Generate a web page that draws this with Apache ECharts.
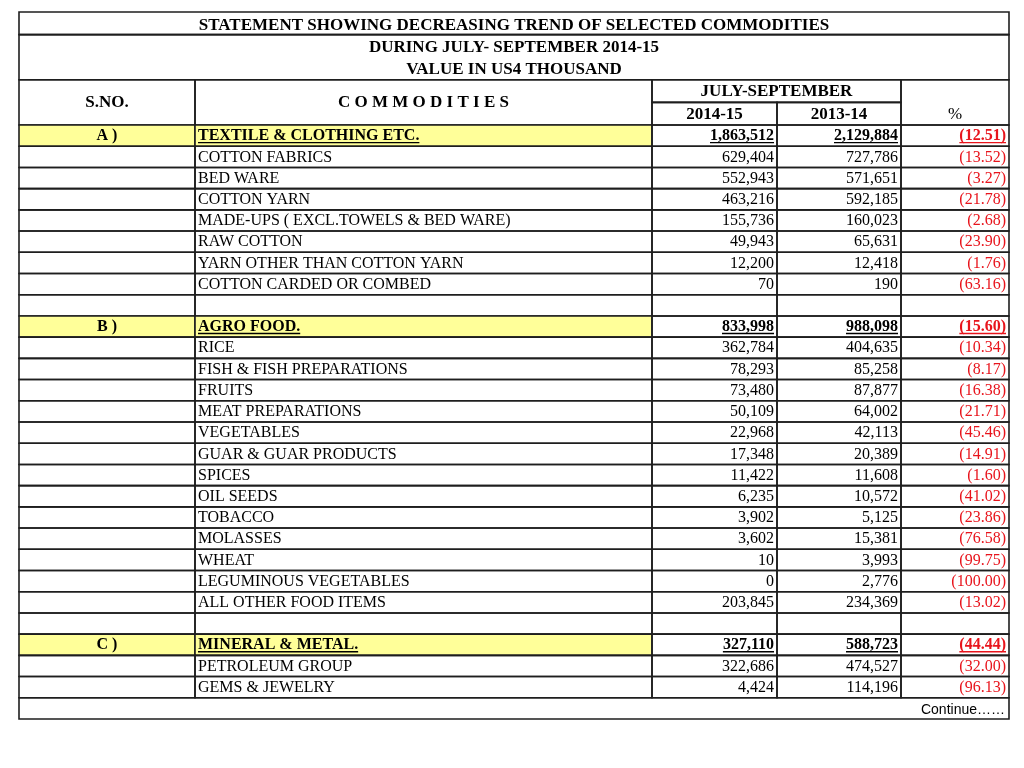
<!DOCTYPE html>
<html><head><meta charset="utf-8">
<script src="https://cdn.jsdelivr.net/npm/echarts@6/dist/echarts.min.js"></script>
<style>html,body{margin:0;padding:0;background:#fff}#c{width:1024px;height:768px}</style>
</head><body><div id="c"></div>
<script>
// ---------- DATA ----------
const titleLines = [
  'STATEMENT SHOWING DECREASING TREND OF SELECTED COMMODITIES',
  'DURING JULY- SEPTEMBER 2014-15',
  'VALUE IN US4 THOUSAND'
];
const headerSno = 'S.NO.';
const headerCommodities = 'C O M M O D I T I E S';
const headerPeriod = 'JULY-SEPTEMBER';
const headerYears = ['2014-15', '2013-14'];
const headerPct = '%';
const serialNos = ['A )','','','','','','','','', 'B )','','','','','','','','','','','','','','', 'C )','',''];
const commodities = [
  'TEXTILE & CLOTHING ETC.', 'COTTON FABRICS', 'BED WARE', 'COTTON YARN',
  'MADE-UPS ( EXCL.TOWELS & BED WARE)', 'RAW COTTON', 'YARN OTHER THAN COTTON YARN',
  'COTTON CARDED OR COMBED', '',
  'AGRO FOOD.', 'RICE', 'FISH & FISH PREPARATIONS', 'FRUITS', 'MEAT PREPARATIONS',
  'VEGETABLES', 'GUAR & GUAR PRODUCTS', 'SPICES', 'OIL SEEDS', 'TOBACCO', 'MOLASSES',
  'WHEAT', 'LEGUMINOUS VEGETABLES', 'ALL OTHER FOOD ITEMS', '',
  'MINERAL & METAL.', 'PETROLEUM GROUP', 'GEMS & JEWELRY'
];
const value2014 = [1863512, 629404, 552943, 463216, 155736, 49943, 12200, 70, null,
  833998, 362784, 78293, 73480, 50109, 22968, 17348, 11422, 6235, 3902, 3602, 10, 0, 203845, null,
  327110, 322686, 4424];
const value2013 = [2129884, 727786, 571651, 592185, 160023, 65631, 12418, 190, null,
  988098, 404635, 85258, 87877, 64002, 42113, 20389, 11608, 10572, 5125, 15381, 3993, 2776, 234369, null,
  588723, 474527, 114196];
const pctChange = [-12.51, -13.52, -3.27, -21.78, -2.68, -23.90, -1.76, -63.16, null,
  -15.60, -10.34, -8.17, -16.38, -21.71, -45.46, -14.91, -1.60, -41.02, -23.86, -76.58, -99.75, -100.00, -13.02, null,
  -44.44, -32.00, -96.13];
const footnote = 'Continue……';

// ---------- LAYOUT / STYLE ----------
const colEdges = [0, 176, 633, 758, 882, 990];
const SERIF = '"Liberation Serif", "Times New Roman", serif';
const SANS = '"Liberation Sans", Arial, sans-serif';
const BORDER = '#1e1e1e';
const YELLOW = '#ffff99';
const RED = '#e8141c';
const HEAD_SIZE = 17;

const fmtNum = v => v == null ? '' : v.toLocaleString('en-US');
const fmtPct = v => v == null ? '' : (v < 0 ? '(' + Math.abs(v).toFixed(2) + ')' : v.toFixed(2));

// header cells
const headCells = [
  {c0:0,c1:5,r0:0,r1:0,border:true,text:titleLines[0],align:'center',bold:true,size:HEAD_SIZE,dy:1.5},
  {c0:0,c1:5,r0:1,r1:2,border:true},
  {c0:0,c1:5,r0:1,r1:1,text:titleLines[1],align:'center',bold:true,size:HEAD_SIZE,dy:1},
  {c0:0,c1:5,r0:2,r1:2,text:titleLines[2],align:'center',bold:true,size:HEAD_SIZE,dy:1},
  {c0:0,c1:1,r0:3,r1:4,border:true,text:headerSno,align:'center',bold:true,size:HEAD_SIZE},
  {c0:1,c1:2,r0:3,r1:4,border:true,text:headerCommodities,align:'center',bold:true,size:HEAD_SIZE},
  {c0:2,c1:4,r0:3,r1:3,border:true,text:headerPeriod,align:'center',bold:true,size:HEAD_SIZE},
  {c0:2,c1:3,r0:4,r1:4,border:true,text:headerYears[0],align:'center',bold:true,size:HEAD_SIZE},
  {c0:3,c1:4,r0:4,r1:4,border:true,text:headerYears[1],align:'center',bold:true,size:HEAD_SIZE},
  {c0:4,c1:5,r0:3,r1:4,border:true},
  {c0:4,c1:5,r0:4,r1:4,text:headerPct,align:'center',size:HEAD_SIZE}
];

// body cells
const bodyCells = [];
commodities.forEach((name, r) => {
  const isGroup = serialNos[r] !== '';
  const fill = isGroup ? YELLOW : null;
  bodyCells.push({c0:0,c1:1,r0:r,r1:r,border:true,fill,text:serialNos[r],align:'center',bold:true});
  bodyCells.push({c0:1,c1:2,r0:r,r1:r,border:true,fill,text:name,align:'left',bold:isGroup,underline:isGroup});
  bodyCells.push({c0:2,c1:3,r0:r,r1:r,border:true,text:fmtNum(value2014[r]),align:'right',bold:isGroup,underline:isGroup});
  bodyCells.push({c0:3,c1:4,r0:r,r1:r,border:true,text:fmtNum(value2013[r]),align:'right',bold:isGroup,underline:isGroup});
  bodyCells.push({c0:4,c1:5,r0:r,r1:r,border:true,text:fmtPct(pctChange[r]),align:'right',bold:isGroup,underline:isGroup,color:RED});
});
bodyCells.push({c0:0,c1:5,r0:commodities.length,r1:commodities.length,border:true,text:footnote,align:'right',family:SANS,size:14,pad:4,dy:1.5});

const measureCtx = document.createElement('canvas').getContext('2d');
function textWidth(t, size, bold, family){
  measureCtx.font = (bold ? 'bold ' : '') + size + 'px ' + family;
  return measureCtx.measureText(t).width;
}

function makeRender(cells){
  return function(params, api){
    const c = cells[params.dataIndex];
    const bandH = api.size([0, 1])[1];
    const p0 = api.coord([colEdges[c.c0], c.r0]);
    const p1 = api.coord([colEdges[c.c1], c.r1]);
    const x0 = p0[0], x1 = p1[0];
    const y0 = p0[1] - bandH / 2, y1 = p1[1] + bandH / 2;
    const children = [];
    if (c.border || c.fill) {
      children.push({type:'rect', shape:{x:x0, y:y0, width:x1 - x0, height:y1 - y0},
        style:{fill:c.fill || 'rgba(0,0,0,0)', stroke:c.border ? BORDER : null, lineWidth:1.6}});
    }
    if (c.text) {
      const size = c.size || 16, family = c.family || SERIF;
      const pad = c.pad || 3;
      const tx = c.align === 'left' ? x0 + pad : c.align === 'right' ? x1 - pad : (x0 + x1) / 2;
      const ty = (y0 + y1) / 2 + 0.5 + (c.dy || 0);
      children.push({type:'text', style:{text:c.text, x:tx, y:ty, align:c.align, verticalAlign:'middle',
        fill:c.color || '#000', fontSize:size, fontFamily:family, fontWeight:c.bold ? 'bold' : 'normal'}});
      if (c.underline) {
        const w = textWidth(c.text, size, c.bold, family);
        const ux0 = c.align === 'left' ? tx : c.align === 'right' ? tx - w : tx - w / 2;
        const uy = ty + 6.5;
        children.push({type:'line', shape:{x1:ux0, y1:uy, x2:ux0 + w, y2:uy},
          style:{stroke:c.color || '#000', lineWidth:1.4}});
      }
    }
    return {type:'group', children};
  };
}

const headRows = [0,1,2,3,4].map(String);
const bodyRows = Array.from({length: commodities.length + 1}, (_, i) => String(i));

const chart = echarts.init(document.getElementById('c'), null, {renderer:'canvas'});
chart.setOption({
  animation:false,
  backgroundColor:'#fff',
  grid:[
    {left:19, width:990, top:12, height:113},
    {left:19, width:990, top:125, height:594}
  ],
  xAxis:[
    {type:'value', gridIndex:0, min:0, max:990, show:false},
    {type:'value', gridIndex:1, min:0, max:990, show:false}
  ],
  yAxis:[
    {type:'category', gridIndex:0, data:headRows, inverse:true, show:false},
    {type:'category', gridIndex:1, data:bodyRows, inverse:true, show:false}
  ],
  series:[
    {type:'custom', xAxisIndex:0, yAxisIndex:0, clip:false, silent:true,
      renderItem:makeRender(headCells), encode:{x:0, y:1},
      data:headCells.map(c => [colEdges[c.c0], c.r0])},
    {type:'custom', xAxisIndex:1, yAxisIndex:1, clip:false, silent:true,
      renderItem:makeRender(bodyCells), encode:{x:0, y:1},
      data:bodyCells.map(c => [colEdges[c.c0], c.r0])}
  ]
});
</script>
</body></html>
